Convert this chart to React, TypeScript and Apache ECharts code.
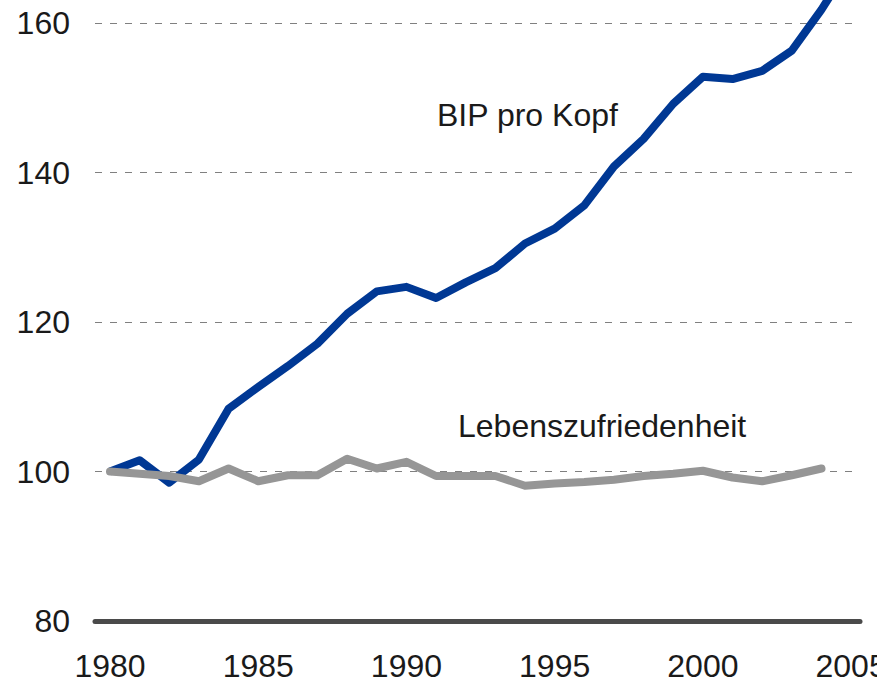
import React, { useEffect, useRef } from "react";
import * as echarts from "echarts";

const years: number[] = [
  1980, 1981, 1982, 1983, 1984, 1985, 1986, 1987, 1988, 1989, 1990, 1991, 1992,
  1993, 1994, 1995, 1996, 1997, 1998, 1999, 2000, 2001, 2002, 2003, 2004, 2005,
];
const bipProKopf: number[] = [
  100, 101.5, 98.5, 101.6, 108.4, 111.3, 114.1, 117.1, 121.1, 124.1, 124.7,
  123.2, 125.3, 127.2, 130.5, 132.5, 135.6, 140.8, 144.5, 149.2, 152.8, 152.5,
  153.6, 156.3, 161.8, 168,
];
const lebenszufriedenheit: (number | null)[] = [
  100, 99.7, 99.4, 98.7, 100.4, 98.7, 99.5, 99.5, 101.7, 100.4, 101.3, 99.4,
  99.4, 99.4, 98.1, 98.4, 98.6, 98.9, 99.4, 99.7, 100.1, 99.2, 98.7, 99.5,
  100.4, null,
];
const xTickLabels: number[] = [1980, 1985, 1990, 1995, 2000, 2005];
const seriesNames: string[] = ["BIP pro Kopf", "Lebenszufriedenheit"];

const FONT = "'Liberation Sans', Arial, Helvetica, sans-serif";
const OFFSET = 127; // chart canvas starts above the visible page (top of plot is cropped)

export default function App() {
  const ref = useRef<HTMLDivElement>(null);
  useEffect(() => {
    if (!ref.current) return;
    const chart = echarts.init(ref.current, undefined, {
      renderer: "svg",
      width: 877,
      height: 683 + OFFSET,
    });
    chart.setOption({
      animation: false,
      backgroundColor: "#ffffff",
      grid: {
        left: 95,
        right: 17,
        top: 0.5,
        bottom: 62,
        containLabel: false,
        outerBoundsMode: "none",
      },
      xAxis: {
        type: "value",
        min: 1979.494,
        max: 2005.3,
        axisLine: {
          show: true,
          onZero: false,
          lineStyle: { color: "#4a4a4a", width: 5, cap: "round" },
        },
        axisTick: { show: false },
        splitLine: { show: false },
        axisLabel: {
          customValues: xTickLabels,
          color: "#1a1a1a",
          fontSize: 32,
          fontFamily: FONT,
          margin: 29,
          formatter: (v: number) => String(Math.round(v)),
        },
      },
      yAxis: {
        type: "value",
        min: 80,
        max: 180,
        interval: 20,
        axisLine: { show: false },
        axisTick: { show: false },
        axisLabel: {
          color: "#1a1a1a",
          fontSize: 32,
          fontFamily: FONT,
          margin: 25,
          formatter: (v: number) => (v <= 160 ? String(v) : ""),
        },
        splitLine: {
          show: true,
          lineStyle: { color: "#808080", width: 1, type: [7, 8] },
        },
      },
      series: [
        {
          name: seriesNames[0],
          type: "line",
          data: years.map((y, i) => [y, bipProKopf[i]]),
          symbol: "none",
          lineStyle: { color: "#003894", width: 8, join: "round" },
          z: 3,
        },
        {
          name: seriesNames[1],
          type: "line",
          data: years.map((y, i) => [y, lebenszufriedenheit[i]]),
          symbol: "none",
          connectNulls: false,
          lineStyle: { color: "#969696", width: 8, cap: "round", join: "round" },
          z: 4,
        },
      ],
      graphic: [
        {
          type: "text",
          left: 437,
          top: 99 + OFFSET,
          style: {
            text: seriesNames[0],
            fill: "#1a1a1a",
            font: `32px ${FONT}`,
          },
        },
        {
          type: "text",
          left: 458,
          top: 410 + OFFSET,
          style: {
            text: seriesNames[1],
            fill: "#1a1a1a",
            font: `32px ${FONT}`,
          },
        },
      ],
    });
    return () => chart.dispose();
  }, []);
  return (
    <div
      ref={ref}
      style={{
        position: "absolute",
        left: 0,
        top: -OFFSET,
        width: 877,
        height: 683 + OFFSET,
        overflow: "hidden",
      }}
    />
  );
}
